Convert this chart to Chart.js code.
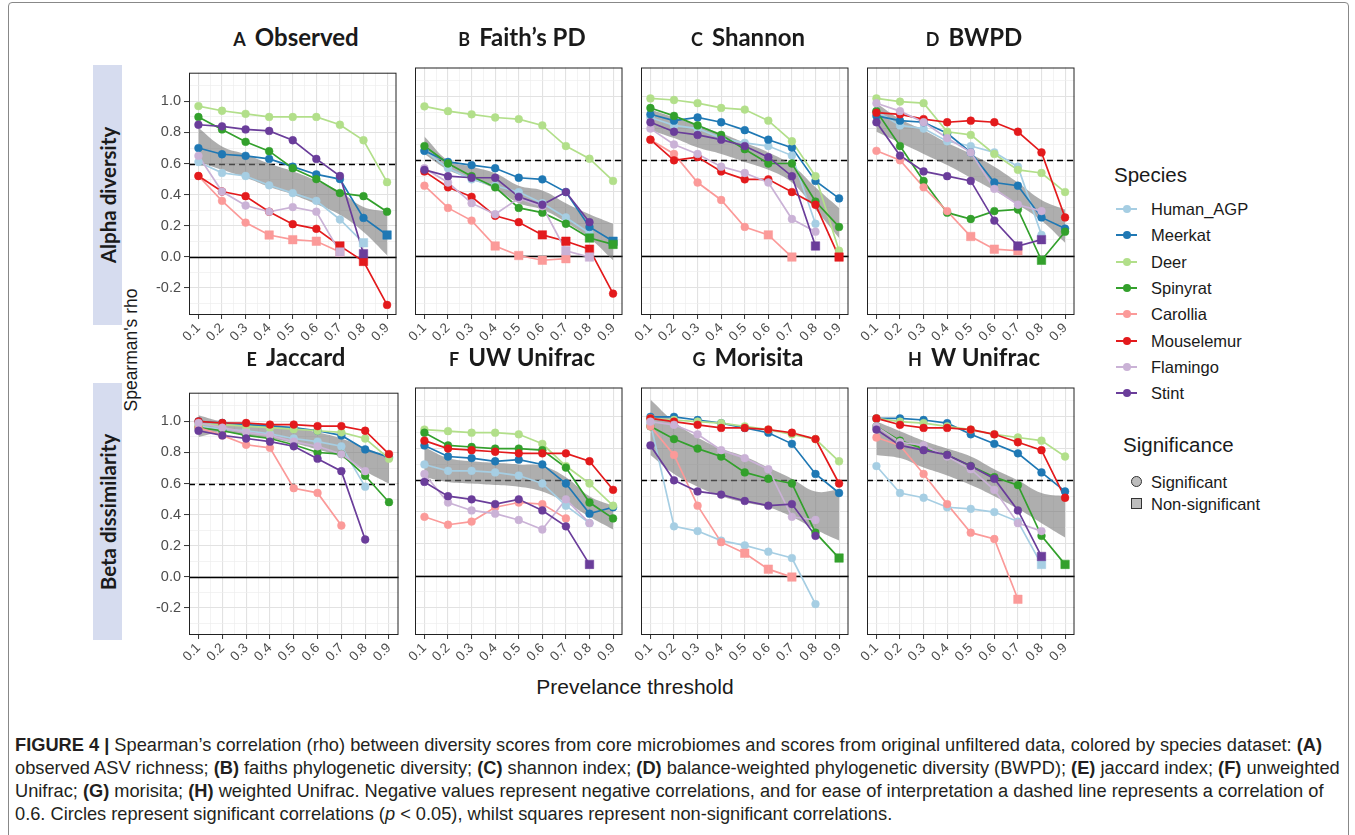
<!DOCTYPE html>
<html>
<head>
<meta charset="utf-8">
<script src="https://cdn.jsdelivr.net/npm/chart.js@4.4.1/dist/chart.umd.min.js"></script>
<style>
  body { margin: 0; background: #fff; width: 1355px; height: 835px; overflow: hidden; position: relative;
         font-family: "Liberation Sans", Arial, sans-serif; color: #1a1a1a; }
  canvas { position: absolute; }
  .outer { position: absolute; left: 8px; top: 2px; width: 1339px; height: 850px; border: 1px solid #888; border-radius: 4px; }
  .title { position: absolute; width: 240px; text-align: center; font-family: Lato, sans-serif; font-weight: bold; white-space: nowrap; line-height: 28px; }
  .title .lt { font-size: 18px; margin-right: 9px; }
  .title .nm { font-size: 24px; }
  .strip { position: absolute; left: 93px; width: 29px; background: #d6dcef; }
  .strip span { position: absolute; left: 50%; top: 50%; transform: translate(-50%, -50%) rotate(-90deg);
                white-space: nowrap; font-family: Lato, sans-serif; font-weight: bold; font-size: 20.5px; }
  .ylab { position: absolute; left: 131px; top: 350px; transform: translate(-50%, -50%) rotate(-90deg);
          white-space: nowrap; font-size: 17.5px; }
  .xlab { position: absolute; left: 635px; top: 687px; transform: translate(-50%, -50%); white-space: nowrap; font-size: 21px; }
  .leg-title { position: absolute; font-size: 20.5px; height: 24px; line-height: 24px; }
  .leg-item { position: absolute; font-size: 16.5px; height: 20px; line-height: 20px; }
  .leg-line { position: absolute; width: 21px; height: 2px; }
  .leg-dot { position: absolute; width: 8px; height: 8px; border-radius: 50%; }
  .caption { position: absolute; left: 15px; top: 733px; font-size: 16px; line-height: 23px; color: #231f20; }
  .caption span { display: block; white-space: nowrap; }
</style>
</head>
<body>
<div class="outer"></div>
<div class="strip" style="top:65px;height:260px"><span>Alpha diversity</span></div>
<div class="strip" style="top:383px;height:257px"><span>Beta dissimilarity</span></div>
<div class="ylab">Spearman's rho</div>
<div class="xlab">Prevelance threshold</div>
<div id="legend"></div>
<div class="caption" id="caption">
<span id="cap1"><b>FIGURE 4 |</b> Spearman’s correlation (rho) between diversity scores from core microbiomes and scores from original unfiltered data, colored by species dataset: <b>(A)</b></span>
<span>observed ASV richness; <b>(B)</b> faiths phylogenetic diversity; <b>(C)</b> shannon index; <b>(D)</b> balance-weighted phylogenetic diversity (BWPD); <b>(E)</b> jaccard index; <b>(F)</b> unweighted</span>
<span>Unifrac; <b>(G)</b> morisita; <b>(H)</b> weighted Unifrac. Negative values represent negative correlations, and for ease of interpretation a dashed line represents a correlation of</span>
<span>0.6. Circles represent significant correlations (<i>p</i> &lt; 0.05), whilst squares represent non-significant correlations.</span>
</div>
<script>
// thresholds and species
const thresholds = [0.1, 0.2, 0.3, 0.4, 0.5, 0.6, 0.7, 0.8, 0.9];
const species = ['Human_AGP', 'Meerkat', 'Deer', 'Spinyrat', 'Carollia', 'Mouselemur', 'Flamingo', 'Stint'];
const speciesColors = ['#a6cee3', '#1f78b4', '#b2df8a', '#33a02c', '#fb9a99', '#e31a1c', '#cab2d6', '#6a3d9a'];
const panelLetters = ['A', 'B', 'C', 'D', 'E', 'F', 'G', 'H'];
const panelNames = ['Observed', 'Faith’s PD', 'Shannon', 'BWPD', 'Jaccard', 'UW Unifrac', 'Morisita', 'W Unifrac'];
const refZero = 0;
const refCutoff = 0.6;

// rho per species (rows in species order), columns = thresholds
const observedRho = [
  [0.61, 0.54, 0.52, 0.46, 0.41, 0.36, 0.24, 0.09, null],
  [0.70, 0.66, 0.65, 0.63, 0.58, 0.53, 0.50, 0.25, 0.14],
  [0.97, 0.94, 0.92, 0.90, 0.90, 0.90, 0.85, 0.75, 0.48],
  [0.90, 0.82, 0.74, 0.68, 0.57, 0.50, 0.41, 0.39, 0.29],
  [0.52, 0.36, 0.22, 0.14, 0.11, 0.10, 0.03, null, null],
  [0.52, 0.42, 0.39, 0.29, 0.21, 0.18, 0.07, -0.03, -0.31],
  [0.65, 0.42, 0.33, 0.29, 0.32, 0.29, 0.03, null, null],
  [0.85, 0.84, 0.82, 0.81, 0.75, 0.63, 0.52, 0.02, null]
];
const faithRho = [
  [0.66, 0.55, 0.48, 0.44, 0.40, 0.33, 0.24, 0.14, null],
  [0.66, 0.59, 0.57, 0.55, 0.49, 0.48, 0.40, 0.18, 0.09],
  [0.94, 0.91, 0.89, 0.87, 0.86, 0.82, 0.69, 0.61, 0.47],
  [0.69, 0.58, 0.50, 0.43, 0.30, 0.27, 0.20, 0.11, 0.07],
  [0.44, 0.30, 0.22, 0.06, 0.00, -0.03, -0.02, null, null],
  [0.53, 0.43, 0.37, 0.25, 0.21, 0.13, 0.09, 0.04, -0.24],
  [0.55, 0.46, 0.33, 0.26, 0.36, 0.31, 0.03, -0.01, null],
  [0.54, 0.50, 0.49, 0.49, 0.37, 0.32, 0.40, 0.21, null]
];
const shannonRho = [
  [0.87, 0.82, 0.80, 0.74, 0.71, 0.69, 0.63, 0.20, null],
  [0.89, 0.85, 0.87, 0.84, 0.79, 0.73, 0.68, 0.47, 0.36],
  [0.99, 0.98, 0.96, 0.93, 0.92, 0.85, 0.72, 0.50, 0.03],
  [0.93, 0.88, 0.82, 0.76, 0.67, 0.58, 0.58, 0.34, 0.18],
  [0.73, 0.64, 0.46, 0.35, 0.18, 0.13, -0.01, null, null],
  [0.73, 0.60, 0.62, 0.53, 0.48, 0.48, 0.40, 0.32, -0.01],
  [0.80, 0.70, 0.64, 0.56, 0.52, 0.46, 0.23, 0.15, null],
  [0.84, 0.78, 0.76, 0.73, 0.69, 0.62, 0.50, 0.06, null]
];
const bwpdRho = [
  [0.91, 0.82, 0.80, 0.72, 0.69, 0.65, 0.56, 0.13, null],
  [0.88, 0.85, 0.84, 0.77, 0.65, 0.46, 0.44, 0.24, 0.17],
  [0.99, 0.97, 0.96, 0.78, 0.76, 0.64, 0.54, 0.52, 0.40],
  [0.91, 0.69, 0.47, 0.27, 0.23, 0.28, 0.29, -0.03, 0.15],
  [0.66, 0.60, 0.43, 0.28, 0.12, 0.04, 0.03, null, null],
  [0.90, 0.89, 0.86, 0.84, 0.85, 0.84, 0.78, 0.65, 0.24],
  [0.96, 0.91, 0.84, 0.74, 0.65, 0.42, 0.32, 0.28, null],
  [0.84, 0.63, 0.53, 0.50, 0.47, 0.22, 0.06, 0.10, null]
];
const jaccardRho = [
  [0.97, 0.95, 0.94, 0.92, 0.89, 0.87, 0.84, 0.58, null],
  [1.00, 0.99, 0.98, 0.97, 0.96, 0.94, 0.91, 0.82, 0.77],
  [0.98, 0.98, 0.97, 0.96, 0.95, 0.94, 0.93, 0.89, 0.76],
  [0.96, 0.94, 0.91, 0.89, 0.85, 0.80, 0.79, 0.65, 0.48],
  [0.96, 0.91, 0.85, 0.83, 0.57, 0.54, 0.33, null, null],
  [1.00, 0.99, 0.99, 0.98, 0.98, 0.97, 0.97, 0.94, 0.79],
  [0.99, 0.96, 0.93, 0.91, 0.87, 0.84, 0.79, 0.68, null],
  [0.94, 0.91, 0.89, 0.87, 0.84, 0.76, 0.68, 0.24, null]
];
const uwUnifracRho = [
  [0.70, 0.66, 0.66, 0.65, 0.63, 0.58, 0.44, 0.33, null],
  [0.82, 0.75, 0.74, 0.72, 0.73, 0.70, 0.58, 0.39, 0.43],
  [0.92, 0.91, 0.90, 0.90, 0.89, 0.83, 0.69, 0.58, 0.44],
  [0.90, 0.82, 0.81, 0.80, 0.80, 0.79, 0.68, 0.46, 0.36],
  [0.37, 0.32, 0.34, 0.43, 0.46, 0.45, 0.36, null, null],
  [0.85, 0.80, 0.79, 0.78, 0.77, 0.77, 0.77, 0.72, 0.54],
  [0.64, 0.46, 0.41, 0.39, 0.35, 0.29, 0.48, 0.33, null],
  [0.59, 0.50, 0.48, 0.45, 0.48, 0.41, 0.31, 0.07, null]
];
const morisitaRho = [
  [0.96, 0.31, 0.28, 0.22, 0.19, 0.15, 0.11, -0.18, null],
  [1.00, 1.00, 0.98, 0.96, 0.93, 0.90, 0.83, 0.64, 0.52],
  [0.99, 0.98, 0.97, 0.96, 0.94, 0.92, 0.89, 0.86, 0.72],
  [0.94, 0.86, 0.80, 0.75, 0.65, 0.61, 0.58, 0.27, 0.11],
  [0.94, 0.76, 0.44, 0.21, 0.14, 0.04, -0.01, null, null],
  [0.99, 0.97, 0.95, 0.93, 0.93, 0.92, 0.90, 0.86, 0.58],
  [0.97, 0.95, 0.89, 0.79, 0.74, 0.67, 0.37, 0.35, null],
  [0.82, 0.60, 0.53, 0.51, 0.47, 0.44, 0.45, 0.25, null]
];
const wUnifracRho = [
  [0.69, 0.52, 0.49, 0.43, 0.42, 0.40, 0.34, 0.07, null],
  [0.99, 0.99, 0.98, 0.96, 0.89, 0.83, 0.77, 0.65, 0.53],
  [0.99, 0.97, 0.96, 0.94, 0.92, 0.89, 0.87, 0.85, 0.75],
  [0.94, 0.85, 0.80, 0.76, 0.69, 0.62, 0.57, 0.25, 0.07],
  [0.87, 0.82, 0.64, 0.45, 0.27, 0.23, -0.15, null, null],
  [0.99, 0.95, 0.93, 0.93, 0.92, 0.89, 0.84, 0.79, 0.49],
  [0.94, 0.84, 0.82, 0.75, 0.67, 0.54, 0.33, 0.28, null],
  [0.92, 0.82, 0.79, 0.76, 0.69, 0.61, 0.41, 0.12, null]
];

// non-significant points: threshold indices per species
const observedNS  = [[7], [8], [], [], [3, 4, 5, 6], [6, 7], [6], [7]];
const faithNS     = [[], [8], [], [7, 8], [3, 4, 5, 6], [5, 6, 7], [6, 7], []];
const shannonNS   = [[], [], [], [], [5, 6], [8], [], [7]];
const bwpdNS      = [[], [], [], [7], [4, 5, 6], [], [], [6, 7]];
const jaccardNS   = [[], [], [], [], [], [], [], []];
const uwUnifracNS = [[], [], [], [], [], [], [], [7]];
const morisitaNS  = [[], [], [], [8], [4, 5, 6], [], [], []];
const wUnifracNS  = [[7], [], [], [8], [6], [], [], [7]];

// smoother confidence band (lower / upper)
const observedLo  = [0.61, 0.56, 0.51, 0.45, 0.40, 0.34, 0.27, 0.16, 0.01];
const observedHi  = [0.83, 0.71, 0.66, 0.60, 0.55, 0.49, 0.42, 0.32, 0.29];
const faithLo     = [0.64, 0.54, 0.48, 0.42, 0.33, 0.29, 0.21, 0.11, -0.03];
const faithHi     = [0.75, 0.60, 0.56, 0.52, 0.44, 0.41, 0.33, 0.26, 0.20];
const shannonLo   = [0.79, 0.74, 0.68, 0.64, 0.59, 0.54, 0.46, 0.29, 0.11];
const shannonHi   = [0.92, 0.87, 0.82, 0.77, 0.71, 0.65, 0.57, 0.43, 0.30];
const bwpdLo      = [0.78, 0.71, 0.64, 0.57, 0.49, 0.41, 0.32, 0.22, 0.08];
const bwpdHi      = [0.96, 0.86, 0.79, 0.71, 0.64, 0.56, 0.46, 0.35, 0.29];
const jaccardLo   = [0.90, 0.93, 0.91, 0.89, 0.86, 0.82, 0.77, 0.68, 0.60];
const jaccardHi   = [1.04, 1.00, 0.99, 0.98, 0.96, 0.93, 0.89, 0.83, 0.77];
const uwUnifracLo = [0.62, 0.59, 0.58, 0.57, 0.56, 0.53, 0.46, 0.37, 0.29];
const uwUnifracHi = [0.81, 0.74, 0.72, 0.71, 0.70, 0.69, 0.62, 0.50, 0.44];
const morisitaLo  = [0.76, 0.64, 0.56, 0.50, 0.46, 0.43, 0.37, 0.29, 0.22];
const morisitaHi  = [1.11, 0.97, 0.87, 0.80, 0.75, 0.68, 0.61, 0.53, 0.54];
const wUnifracLo  = [0.76, 0.74, 0.68, 0.63, 0.57, 0.50, 0.42, 0.33, 0.24];
const wUnifracHi  = [0.97, 0.91, 0.85, 0.80, 0.75, 0.67, 0.60, 0.52, 0.50];

const panelRho = [observedRho, faithRho, shannonRho, bwpdRho, jaccardRho, uwUnifracRho, morisitaRho, wUnifracRho];
const panelNS = [observedNS, faithNS, shannonNS, bwpdNS, jaccardNS, uwUnifracNS, morisitaNS, wUnifracNS];
const panelLo = [observedLo, faithLo, shannonLo, bwpdLo, jaccardLo, uwUnifracLo, morisitaLo, wUnifracLo];
const panelHi = [observedHi, faithHi, shannonHi, bwpdHi, jaccardHi, uwUnifracHi, morisitaHi, wUnifracHi];

// fit caption so the first line spans the figure width
const cap1 = document.getElementById('cap1');
const capEl = document.getElementById('caption');
const w16 = cap1.getBoundingClientRect().width;
capEl.style.fontSize = (16 * 1325 / w16).toFixed(2) + 'px';

// layout
const frameLefts = [189, 415, 641, 867];
const rowTops = [62, 382];
const frameW = 214, frameH = 253;
const axisW = 44, axisH = 44;
const xMin = 0.06, xMax = 0.94, yMin = -0.375, yMax = 1.185;

// grid positions: majors at thresholds, minors halfway
const xGridVals = [];
thresholds.forEach((t, i) => {
  xGridVals.push(t);
  if (i < thresholds.length - 1) xGridVals.push((t + thresholds[i + 1]) / 2);
});
const yGridVals = [];
for (let k = -3; k <= 11; k++) yGridVals.push(k / 10);
const isMajorY = v => Math.round(v * 10) % 2 === 0;
const isMajorX = v => thresholds.some(t => Math.abs(t - v) < 1e-9);

const panelDecor = {
  id: 'panelDecor',
  beforeDatasetsDraw(chart) {
    const { ctx, chartArea: a, scales: { y } } = chart;
    ctx.save();
    ctx.strokeStyle = '#000';
    const yz = Math.round(y.getPixelForValue(refZero)) + 0.5;
    ctx.lineWidth = 1.3;
    ctx.beginPath(); ctx.moveTo(a.left, yz); ctx.lineTo(a.right, yz); ctx.stroke();
    const yc = Math.round(y.getPixelForValue(refCutoff)) + 0.5;
    ctx.lineWidth = 1.5;
    ctx.setLineDash([6, 4]);
    ctx.beginPath(); ctx.moveTo(a.left, yc); ctx.lineTo(a.right, yc); ctx.stroke();
    ctx.restore();
  },
  afterDraw(chart) {
    const { ctx, chartArea: a } = chart;
    ctx.save();
    ctx.strokeStyle = '#222';
    ctx.lineWidth = 1;
    ctx.strokeRect(a.left + 0.5, a.top + 0.5, a.right - a.left - 1, a.bottom - a.top - 1);
    ctx.restore();
  }
};

function seriesPoints(values) {
  const pts = [];
  thresholds.forEach((t, k) => { if (values[k] !== null) pts.push({ x: t, y: values[k] }); });
  return pts;
}

function makePanel(i) {
  const col = i % 4, row = Math.floor(i / 4);
  const showY = col === 0;
  const cv = document.createElement('canvas');
  cv.width = axisW + frameW;
  cv.height = 1 + frameH + axisH;
  cv.style.left = (frameLefts[col] - axisW) + 'px';
  cv.style.top = (rowTops[row] - 1) + 'px';
  document.body.appendChild(cv);

  const title = document.createElement('div');
  title.className = 'title';
  title.style.left = (frameLefts[col] + frameW / 2 - 120) + 'px';
  title.style.top = (rowTops[row] - 39) + 'px';
  title.innerHTML = '<span class="lt">' + panelLetters[i] + '</span><span class="nm">' + panelNames[i] + '</span>';
  document.body.appendChild(title);

  const rho = panelRho[i], ns = panelNS[i];
  const datasets = [];
  // points on top, then lines, then band; later species drawn above earlier ones
  for (let s = species.length - 1; s >= 0; s--) {
    const nsSet = ns[s];
    const isNS = c => nsSet.includes(thresholds.indexOf(c.raw.x));
    datasets.push({
      data: seriesPoints(rho[s]), order: 0, showLine: false,
      pointStyle: c => isNS(c) ? 'rect' : 'circle',
      pointRadius: c => isNS(c) ? 6 : 3.9,
      pointBackgroundColor: speciesColors[s], pointBorderColor: speciesColors[s], pointBorderWidth: 0.5
    });
  }
  for (let s = species.length - 1; s >= 0; s--) {
    datasets.push({
      data: seriesPoints(rho[s]), order: 1, showLine: true,
      borderColor: speciesColors[s], borderWidth: 1.7, pointRadius: 0, fill: false, tension: 0
    });
  }
  datasets.push({
    data: seriesPoints(panelLo[i]), order: 2, showLine: true,
    borderWidth: 0, borderColor: 'rgba(0,0,0,0)', pointRadius: 0, fill: false, tension: 0.4
  });
  datasets.push({
    data: seriesPoints(panelHi[i]), order: 2, showLine: true,
    borderWidth: 0, borderColor: 'rgba(0,0,0,0)', pointRadius: 0, tension: 0.4,
    fill: '-1', backgroundColor: 'rgba(120,120,120,0.6)'
  });

  new Chart(cv.getContext('2d'), {
    type: 'line',
    data: { datasets },
    plugins: [panelDecor],
    options: {
      responsive: false, animation: false,
      layout: { padding: { top: 1, right: 0, left: 0, bottom: 0 } },
      plugins: { legend: { display: false }, tooltip: { enabled: false } },
      scales: {
        x: {
          type: 'linear', min: xMin, max: xMax,
          afterBuildTicks: sc => { sc.ticks = xGridVals.map(v => ({ value: v })); },
          afterFit: sc => { sc.height = axisH; sc.paddingLeft = 0; sc.paddingRight = 0; },
          border: { display: false },
          grid: {
            color: c => isMajorX(c.tick.value) ? '#e2e2e2' : '#eeeeee',
            lineWidth: c => isMajorX(c.tick.value) ? 1.1 : 0.7,
            tickColor: c => isMajorX(c.tick.value) ? '#333' : 'rgba(0,0,0,0)',
            tickLength: 4, tickWidth: 1
          },
          ticks: {
            autoSkip: false, minRotation: 45, maxRotation: 45, padding: 1,
            color: '#4d4d4d', font: { family: 'Liberation Sans', size: 13.5 },
            callback: v => isMajorX(v) ? v.toFixed(1) : ''
          }
        },
        y: {
          min: yMin, max: yMax,
          afterBuildTicks: sc => { sc.ticks = yGridVals.map(v => ({ value: v })); },
          afterFit: sc => { sc.width = axisW; },
          border: { display: false },
          grid: {
            color: c => isMajorY(c.tick.value) ? '#e2e2e2' : '#eeeeee',
            lineWidth: c => isMajorY(c.tick.value) ? 1.1 : 0.7,
            drawTicks: showY,
            tickColor: c => isMajorY(c.tick.value) ? '#333' : 'rgba(0,0,0,0)',
            tickLength: 5, tickWidth: 1
          },
          ticks: {
            display: showY, autoSkip: false, padding: 3,
            color: '#4d4d4d', font: { family: 'Liberation Sans', size: 14.5 },
            callback: v => isMajorY(v) ? v.toFixed(1) : ''
          }
        }
      }
    }
  });
}

for (let i = 0; i < 8; i++) makePanel(i);

// legend
const legend = document.getElementById('legend');
function addEl(cls, css, text) {
  const d = document.createElement('div');
  d.className = cls;
  Object.assign(d.style, css);
  if (text) d.textContent = text;
  legend.appendChild(d);
  return d;
}
addEl('leg-title', { left: '1114px', top: '163px' }, 'Species');
species.forEach((name, k) => {
  const yc = 209 + k * 26.3;
  addEl('leg-line', { left: '1116px', top: (yc - 1) + 'px', background: speciesColors[k] });
  addEl('leg-dot', { left: '1123px', top: (yc - 4) + 'px', background: speciesColors[k] });
  addEl('leg-item', { left: '1151px', top: (yc - 10) + 'px' }, name);
});
addEl('leg-title', { left: '1123px', top: '433px' }, 'Significance');
addEl('leg-dot', { left: '1131px', top: '476px', width: '11px', height: '11px', background: '#bdbdbd', border: '1px solid #333', boxSizing: 'border-box' });
addEl('leg-item', { left: '1151px', top: '472px' }, 'Significant');
addEl('leg-dot', { left: '1131px', top: '498px', width: '11px', height: '11px', borderRadius: '0', background: '#bdbdbd', border: '1px solid #333', boxSizing: 'border-box' });
addEl('leg-item', { left: '1151px', top: '494px' }, 'Non-significant');
</script>
</body>
</html>
